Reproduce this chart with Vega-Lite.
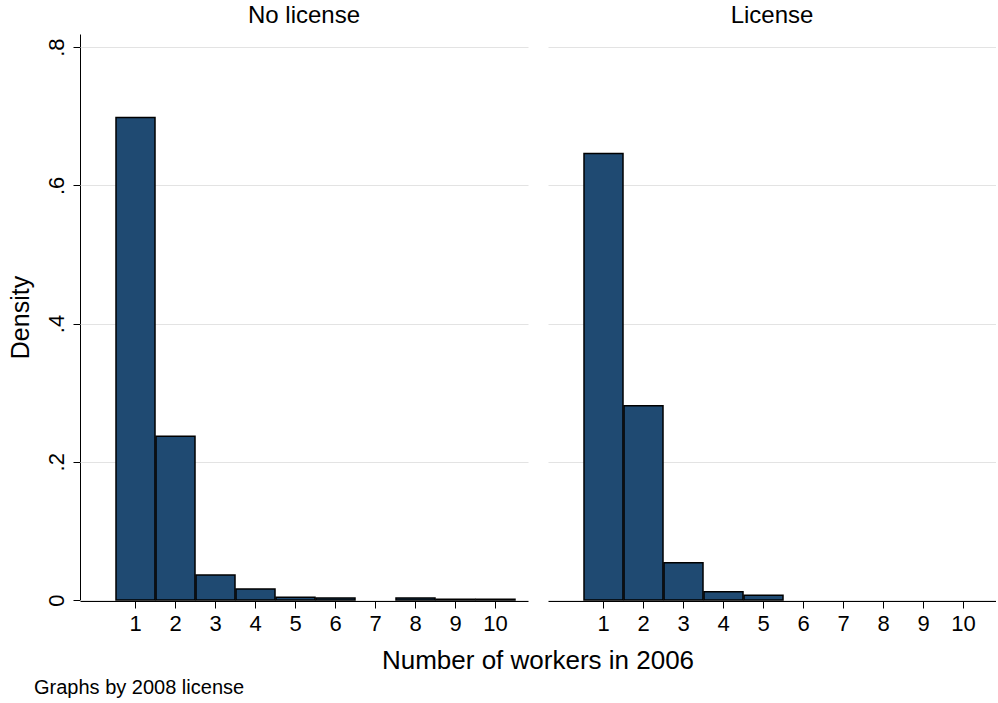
{
  "$schema": "https://vega.github.io/schema/vega-lite/v6.json",
  "padding": {"left": 8, "top": 4, "right": 0, "bottom": 0},
  "background": "white",
  "data": {"values": [
    {"license": "No license", "workers": 1, "density": 0.698},
    {"license": "No license", "workers": 2, "density": 0.237},
    {"license": "No license", "workers": 3, "density": 0.036},
    {"license": "No license", "workers": 4, "density": 0.016},
    {"license": "No license", "workers": 5, "density": 0.004},
    {"license": "No license", "workers": 6, "density": 0.003},
    {"license": "No license", "workers": 8, "density": 0.003},
    {"license": "No license", "workers": 9, "density": 0.001},
    {"license": "No license", "workers": 10, "density": 0.001},
    {"license": "License", "workers": 1, "density": 0.646},
    {"license": "License", "workers": 2, "density": 0.281},
    {"license": "License", "workers": 3, "density": 0.054},
    {"license": "License", "workers": 4, "density": 0.012},
    {"license": "License", "workers": 5, "density": 0.007}
  ]},
  "transform": [
    {"calculate": "datum.workers - 0.5", "as": "lo"},
    {"calculate": "datum.workers + 0.5", "as": "hi"}
  ],
  "facet": {
    "column": {
      "field": "license", "type": "nominal", "sort": ["No license", "License"],
      "header": {
        "title": "Number of workers in 2006",
        "titleOrient": "bottom",
        "titleFontSize": 26,
        "titleFontWeight": "normal",
        "titleFont": "Liberation Sans",
        "titleColor": "black",
        "titlePadding": 4,
        "labelOrient": "top",
        "labelFontSize": 24,
        "labelFont": "Liberation Sans",
        "labelColor": "black",
        "labelPadding": 6
      }
    }
  },
  "spacing": 20,
  "title": {
    "text": "Graphs by 2008 license",
    "orient": "bottom",
    "anchor": "start",
    "fontSize": 20,
    "fontWeight": "normal",
    "font": "Liberation Sans",
    "color": "black",
    "offset": 4,
    "dx": 26
  },
  "spec": {
    "width": 448,
    "height": 566,
    "mark": {"type": "bar", "fill": "#1f4a72", "stroke": "black", "strokeWidth": 1.5},
    "encoding": {
      "x": {
        "field": "lo", "type": "quantitative", "bin": "binned",
        "scale": {"domain": [-0.375, 10.825], "nice": false, "zero": false},
        "axis": {
          "title": null,
          "values": [1,2,3,4,5,6,7,8,9,10],
          "grid": false,
          "domainColor": "black",
          "domainWidth": 1,
          "tickColor": "black",
          "tickSize": 7,
          "labelFontSize": 22,
          "labelFont": "Liberation Sans",
          "labelColor": "black",
          "labelPadding": 5,
          "labelFlush": false
        }
      },
      "x2": {"field": "hi"},
      "y": {
        "field": "density", "type": "quantitative",
        "scale": {"domain": [0, 0.819], "nice": false},
        "axis": {
          "title": "Density",
          "titleFontSize": 25,
          "titleFontWeight": "normal",
          "titleFont": "Liberation Sans",
          "titleColor": "black",
          "titlePadding": 12,
          "values": [0, 0.2, 0.4, 0.6, 0.8],
          "labelExpr": "datum.value == 0 ? '0' : replace(format(datum.value, '.1f'), '0.', '.')",
          "labelAngle": -90,
          "labelAlign": "center",
          "labelBaseline": "bottom",
          "labelFontSize": 22,
          "labelFont": "Liberation Sans",
          "labelColor": "black",
          "labelPadding": 5,
          "tickColor": "black",
          "tickSize": 7,
          "domainColor": "black",
          "domainWidth": 1,
          "grid": true,
          "gridColor": "#e3e3e3",
          "gridWidth": 1
        }
      }
    }
  },
  "config": {
    "view": {"stroke": null},
    "font": "Liberation Sans"
  }
}
